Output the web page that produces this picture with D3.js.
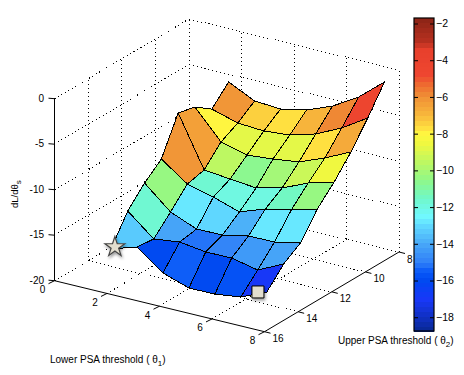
<!DOCTYPE html>
<html>
<head>
<meta charset="utf-8">
<script src="https://cdn.jsdelivr.net/npm/d3@7"></script>
<style>
  html, body { margin: 0; padding: 0; background: #fff; }
  text { font-family: "Liberation Sans", Arial, sans-serif; fill: #000; }
  .grid { fill: none; stroke: #000; stroke-dasharray: 1 3; shape-rendering: crispEdges; }
  .face { stroke: #000; stroke-width: 1; stroke-linejoin: round; shape-rendering: crispEdges; }
  .axis-line { stroke: #000; stroke-width: 1; fill: none; }
</style>
</head>
<body>
<div id="chart"></div>
<script>
// surface grid
const xGrid = [2.15, 3.14, 4.13, 5.12, 6.11, 7.10, 8.09];
const yGrid = [16, 15, 14, 13, 12, 11, 10, 9];

// one row per yGrid value, one column per xGrid value
const zRow16 = [-15.0, -14.1, -16.26, -17.22, -17.19, -16.81, -15.57];
const zRow15 = [-11.93, -14.31, -13.95, -14.35, -14.32, -14.95, -13.59];
const zRow14 = [-9.95, -12.44, -13.62, -13.58, -12.99, -12.96, -12.37];
const zRow13 = [-8.41, -10.46, -11.2, -12.14, -11.12, -10.54, -9.74];
const zRow12 = [-4.44, -10.01, -10.31, -10.6, -9.91, -8.67, -7.87];
const zRow11 = [-4.88, -8.03, -8.77, -8.52, -8.14, -7.01, -5.66];
const zRow10 = [-6.2, -7.04, -7.22, -6.97, -6.16, -4.81, -3.02];
const zRow9 = [-4.32, -5.71, -5.9, -5.32, -4.19, -2.51, -0.15];
const zRows = [zRow16, zRow15, zRow14, zRow13, zRow12, zRow11, zRow10, zRow9];

// colour level of each face
const cRow16 = [-13.3, -16, -15.5, -16, -15.8, -17];
const cRow15 = [-11.7, -14, -15.2, -15, -14.3, -14];
const cRow14 = [-10.3, -12.7, -12.9, -13.9, -12.8, -12.7];
const cRow13 = [-6, -11.7, -12, -11.9, -11.5, -10.4];
const cRow12 = [-6.4, -9.5, -10.6, -10.2, -9.4, -8.5];
const cRow11 = [-8, -8.8, -8.8, -8.7, -7.6, -6.5];
const cRow10 = [-6, -7.3, -7.7, -6.9, -5.7, -4.5];
const cRows = [cRow16, cRow15, cRow14, cRow13, cRow12, cRow11, cRow10];

const colorValues = [-18.75, -18, -17, -16, -15.5, -15, -14, -13, -12.5, -11.5, -10.5, -9.5, -8.5, -8, -7.7, -7, -6, -5.4, -4.8, -3.4, -3, -1.7];
const colorHex = ['#082890', '#1030c0', '#1838f8', '#0048f0', '#0858f8', '#3080f8', '#48a8f8', '#60d8ff', '#70f8ff', '#70f8c8', '#90f888', '#c0f860', '#f0f840', '#fff840', '#ffe040', '#f8b83c', '#f09236', '#ee7030', '#ee4630', '#e8402c', '#b83020', '#8a2416'];

const xTicks = [0, 2, 4, 6, 8];
const yTicks = [8, 10, 12, 14, 16];
const zTicks = [0, -5, -10, -15, -20];
const cTicks = [-2, -4, -6, -8, -10, -12, -14, -16, -18];

// star and square markers [x, y, z]
const starPoint = [2.30, 16, -14.68];
const squarePoint = [7.75, 16, -15.81];

const svg = d3.select('#chart').append('svg')
    .attr('width', 464)
    .attr('height', 375)
    .style('display', 'block');

// oblique projection, each axis adds its own screen offset
const xToPx = d3.scaleLinear().domain([0, 8]).range([0, 210]);
const xToPy = d3.scaleLinear().domain([0, 8]).range([0, 51]);
const yToPx = d3.scaleLinear().domain([16, 8]).range([0, 134.5]);
const yToPy = d3.scaleLinear().domain([16, 8]).range([0, -79.7]);
const zToPy = d3.scaleLinear().domain([-20, 0]).range([0, -182]);

function project(x, y, z) {
    return [54.5 + xToPx(x) + yToPx(y), 280.7 + xToPy(x) + yToPy(y) + zToPy(z)];
}

// colour map, 64 flat bands
const colorLine = d3.scaleLinear().domain(colorValues).range(colorHex);
const nBands = 64;
const cMin = -18.75, cMax = -1.7;
const bandColors = d3.range(nBands).map(k => colorLine(cMin + (k + 0.5) * (cMax - cMin) / nBands));
const bandScale = d3.scaleQuantize().domain([cMin, cMax]).range(bandColors);

const line = d3.line();

function gridLine(a, b) {
    svg.append('path').attr('class', 'grid').attr('d', line([project(...a), project(...b)]));
}

// back walls
zTicks.forEach(z => {
    gridLine([0, 16, z], [0, 8, z]);
    gridLine([0, 8, z], [8, 8, z]);
});
yTicks.filter(y => y < 16).forEach(y => {
    gridLine([0, y, -20], [0, y, 0]);
    if (y > 8) gridLine([0, y, -20], [8, y, -20]);
});
xTicks.filter(x => x > 0).forEach(x => {
    gridLine([x, 8, -20], [x, 8, 0]);
    if (x < 8) gridLine([x, 16, -20], [x, 8, -20]);
});

// surface, painted from the back corner forward
const faces = [];
cRows.forEach((row, j) => {
    row.forEach((c, i) => {
        faces.push({
            i, j, c,
            pts: [
                project(xGrid[i], yGrid[j], zRows[j][i]),
                project(xGrid[i + 1], yGrid[j], zRows[j][i + 1]),
                project(xGrid[i + 1], yGrid[j + 1], zRows[j + 1][i + 1]),
                project(xGrid[i], yGrid[j + 1], zRows[j + 1][i])
            ]
        });
    });
});
faces.sort((a, b) => (a.i - a.j) - (b.i - b.j));

svg.append('g').selectAll('path')
    .data(faces)
    .join('path')
    .attr('class', 'face')
    .attr('d', d => line(d.pts) + 'Z')
    .attr('fill', d => bandScale(d.c));

// solid axes
[[[0, 16, -20], [8, 16, -20]], [[8, 16, -20], [8, 8, -20]], [[0, 16, -20], [0, 16, 0]]].forEach(s => {
    svg.append('path').attr('class', 'axis-line').attr('d', line([project(...s[0]), project(...s[1])]));
});

// x ticks
xTicks.forEach(x => {
    const p = project(x, 16, -20);
    svg.append('path').attr('class', 'axis-line').attr('d', line([p, [p[0] - 6, p[1] + 3]]));
    svg.append('text').attr('x', p[0] - 12).attr('y', p[1] + 12.5)
        .attr('text-anchor', 'middle').attr('font-size', 10).text(x);
});

// y ticks
yTicks.forEach(y => {
    const p = project(8, y, -20);
    svg.append('path').attr('class', 'axis-line').attr('d', line([p, [p[0] + 6, p[1] + 1.5]]));
    svg.append('text').attr('x', p[0] + 8).attr('y', p[1] + 10.5)
        .attr('font-size', 10).text(y);
});

// z ticks
zTicks.forEach(z => {
    const p = project(0, 16, z);
    svg.append('path').attr('class', 'axis-line').attr('d', line([[p[0] - 6, p[1] - 0.5], p]));
    svg.append('text').attr('x', p[0] - 10.5).attr('y', p[1] + 2.8)
        .attr('text-anchor', 'end').attr('font-size', 10).text(z);
});

// axis titles
function thetaTitle(x, y, label, sub) {
    const t = svg.append('text').attr('x', x).attr('y', y).attr('font-size', 10);
    t.append('tspan').text(label + ' ( θ');
    t.append('tspan').attr('dy', 3).attr('font-size', 8).text(sub);
    t.append('tspan').attr('dy', -3).text(')');
}
thetaTitle(50, 363, 'Lower PSA threshold', '1');
thetaTitle(338, 344, 'Upper PSA threshold', '2');

const zTitle = svg.append('text').attr('transform', 'translate(18,208) rotate(-90)').attr('font-size', 9.5);
zTitle.append('tspan').text('dL/dθ');
zTitle.append('tspan').attr('dy', 3).attr('font-size', 8).text('s');

// markers
const markerDefs = svg.append('defs').append('filter')
    .attr('id', 'shadow').attr('x', '-50%').attr('y', '-50%').attr('width', '200%').attr('height', '200%');
markerDefs.append('feDropShadow')
    .attr('dx', 1).attr('dy', 2).attr('stdDeviation', 1.5)
    .attr('flood-color', '#000').attr('flood-opacity', 0.4);

const starPx = project(...starPoint);
svg.append('path')
    .attr('d', d3.symbol(d3.symbolStar, 122)())
    .attr('transform', `translate(${starPx[0]},${starPx[1]})`)
    .attr('fill', '#e2decf').attr('stroke', '#444').attr('stroke-width', 1.2)
    .attr('filter', 'url(#shadow)');

const squarePx = project(...squarePoint);
svg.append('path')
    .attr('d', d3.symbol(d3.symbolSquare, 144)())
    .attr('transform', `translate(${squarePx[0]},${squarePx[1]})`)
    .attr('fill', '#e2decf').attr('stroke', '#000').attr('stroke-width', 1)
    .attr('filter', 'url(#shadow)');

// colorbar
const barLeft = 414, barRight = 434, barTop = 18, barBottom = 331;
const cScale = d3.scaleLinear().domain([cMin, cMax]).range([barBottom, barTop]);
const bandH = (barBottom - barTop) / nBands;

svg.append('g').selectAll('rect')
    .data(bandColors)
    .join('rect')
    .attr('x', barLeft)
    .attr('width', barRight - barLeft)
    .attr('y', (d, k) => barBottom - (k + 1) * bandH)
    .attr('height', bandH + 0.5)
    .attr('fill', d => d)
    .attr('shape-rendering', 'crispEdges');

const barRightAxis = svg.append('g')
    .attr('transform', `translate(${barRight},0)`)
    .call(d3.axisRight(cScale).tickValues(cTicks).tickSize(-4).tickPadding(2).tickFormat(d3.format('d')));
barRightAxis.selectAll('text').attr('font-size', 10.5).style('font-family', '"Liberation Sans", Arial, sans-serif');
barRightAxis.select('.domain').remove();

const barLeftAxis = svg.append('g')
    .attr('transform', `translate(${barLeft},0)`)
    .call(d3.axisLeft(cScale).tickValues(cTicks).tickSize(-4).tickFormat(''));
barLeftAxis.select('.domain').remove();

svg.append('rect')
    .attr('x', barLeft).attr('y', barTop)
    .attr('width', barRight - barLeft).attr('height', barBottom - barTop)
    .attr('fill', 'none').attr('stroke', '#000').attr('stroke-width', 1.2);
</script>
</body>
</html>
